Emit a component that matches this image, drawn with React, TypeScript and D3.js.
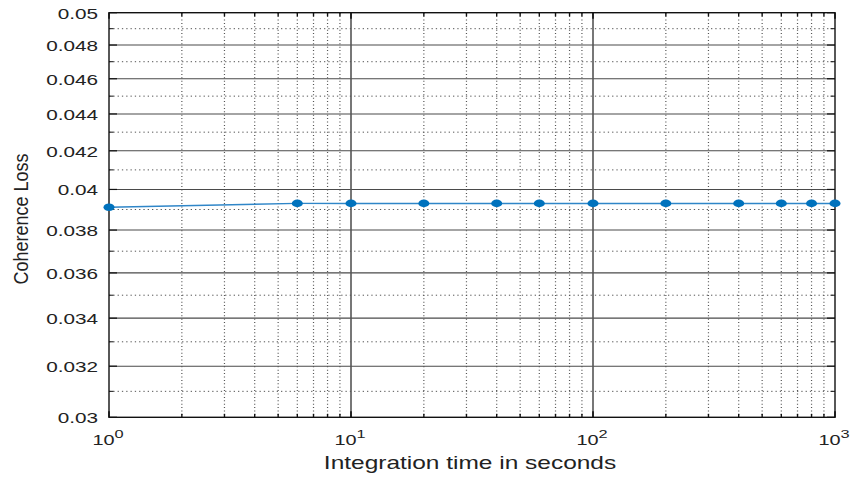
import React from "react";
import * as d3 from "d3";

const xValues = [1, 6, 10, 20, 40, 60, 100, 200, 400, 600, 800, 1000];
const lossValues = [0.03911, 0.0393, 0.0393, 0.0393, 0.0393, 0.0393, 0.0393, 0.0393, 0.0393, 0.0393, 0.0393, 0.0393];
const yTicks = [0.03, 0.032, 0.034, 0.036, 0.038, 0.04, 0.042, 0.044, 0.046, 0.048, 0.05];
const yTickLabels = ["0.03", "0.032", "0.034", "0.036", "0.038", "0.04", "0.042", "0.044", "0.046", "0.048", "0.05"];
const yMinor = [0.031, 0.033, 0.035, 0.037, 0.039, 0.041, 0.043, 0.045, 0.047, 0.049];
const xTicks = [1, 10, 100, 1000];
const xTickExponents = ["0", "1", "2", "3"];
const xMinor = [2, 3, 4, 5, 6, 7, 8, 9, 20, 30, 40, 50, 60, 70, 80, 90, 200, 300, 400, 500, 600, 700, 800, 900];
const xLabel = "Integration time in seconds";
const yLabel = "Coherence Loss";

const W = 856, H = 477;
const L = 109, R = 835, T = 12.7, B = 417.3;
const FONT = "'Liberation Sans', Arial, Helvetica, sans-serif";

export default function App() {
  const x = d3.scaleLog().domain([1, 1000]).range([L, R]);
  const y = d3.scaleLog().domain([0.03, 0.05]).range([B, T]);
  const line = d3.line<number>().x((_, i) => x(xValues[i])).y((d) => y(d));

  return (
    <svg width={W} height={H} style={{ position: "absolute", left: 0, top: 0, background: "#fff" }}>
      <rect x={0} y={0} width={W} height={H} fill="#fff" />
      {/* minor grid */}
      {yMinor.map((v) => (
        <line key={"ym" + v} x1={L} x2={R} y1={y(v)} y2={y(v)} stroke="#555" strokeWidth={1} strokeDasharray="1.3,3" />
      ))}
      {xMinor.map((v) => (
        <line key={"xm" + v} x1={x(v)} x2={x(v)} y1={T} y2={B} stroke="#555" strokeWidth={1.2} strokeDasharray="1,2.4" />
      ))}
      {/* major grid */}
      {yTicks.slice(1, -1).map((v) => (
        <line key={"yg" + v} x1={L} x2={R} y1={y(v)} y2={y(v)} stroke="#4a4a4a" strokeWidth={1.1} />
      ))}
      {xTicks.slice(1, -1).map((v) => (
        <line key={"xg" + v} x1={x(v)} x2={x(v)} y1={T} y2={B} stroke="#555" strokeWidth={1.6} />
      ))}
      {/* ticks */}
      {yTicks.map((v) => (
        <g key={"yt" + v}>
          <line x1={L} x2={L + 8} y1={y(v)} y2={y(v)} stroke="#111" strokeWidth={1.2} />
          <line x1={R} x2={R - 8} y1={y(v)} y2={y(v)} stroke="#111" strokeWidth={1.2} />
        </g>
      ))}
      {yMinor.map((v) => (
        <g key={"ymt" + v}>
          <line x1={L} x2={L + 4.5} y1={y(v)} y2={y(v)} stroke="#111" strokeWidth={1} />
          <line x1={R} x2={R - 4.5} y1={y(v)} y2={y(v)} stroke="#111" strokeWidth={1} />
        </g>
      ))}
      {xMinor.map((v) => (
        <g key={"xmt" + v}>
          <line x1={x(v)} x2={x(v)} y1={B} y2={B - 3.5} stroke="#111" strokeWidth={1.4} />
          <line x1={x(v)} x2={x(v)} y1={T} y2={T + 3.5} stroke="#111" strokeWidth={1.4} />
        </g>
      ))}
      {xTicks.map((v) => (
        <g key={"xt" + v}>
          <line x1={x(v)} x2={x(v)} y1={B} y2={B - 6} stroke="#111" strokeWidth={1.6} />
          <line x1={x(v)} x2={x(v)} y1={T} y2={T + 6} stroke="#111" strokeWidth={1.6} />
        </g>
      ))}
      {/* axes box */}
      <rect x={L} y={T} width={R - L} height={B - T} fill="none" stroke="#111" strokeWidth={1.4} />
      {/* data */}
      <path d={line(lossValues) || ""} fill="none" stroke="#2f86c8" strokeWidth={1.4} />
      {lossValues.map((v, i) => (
        <ellipse key={"pt" + i} cx={x(xValues[i])} cy={y(v)} rx={5.5} ry={3.8} fill="#0072BD" />
      ))}
      {/* y tick labels */}
      {yTicks.map((v, i) => (
        <text
          key={"ytl" + v}
          transform={`translate(98,${y(v) + 1}) scale(1.48,1)`}
          textAnchor="end"
          dy="0.36em"
          fontFamily={FONT}
          fontSize={14}
          fill="#222"
        >
          {yTickLabels[i]}
        </text>
      ))}
      {/* x tick labels */}
      {xTicks.map((v, i) => (
        <text
          key={"xtl" + v}
          transform={`translate(${x(v) - 1},445) scale(1.42,1)`}
          textAnchor="middle"
          fontFamily={FONT}
          fontSize={14}
          fill="#222"
        >
          <tspan>10</tspan>
          <tspan dy={-7} fontSize={11.5}>{xTickExponents[i]}</tspan>
        </text>
      ))}
      {/* axis labels */}
      <text
        transform={`translate(470,469) scale(1.36,1)`}
        textAnchor="middle"
        fontFamily={FONT}
        fontSize={18}
        fill="#222"
      >
        {xLabel}
      </text>
      <text
        transform={`translate(28.3,219) scale(1.16,1) rotate(-90)`}
        textAnchor="middle"
        fontFamily={FONT}
        fontSize={18}
        fill="#222"
      >
        {yLabel}
      </text>
    </svg>
  );
}
